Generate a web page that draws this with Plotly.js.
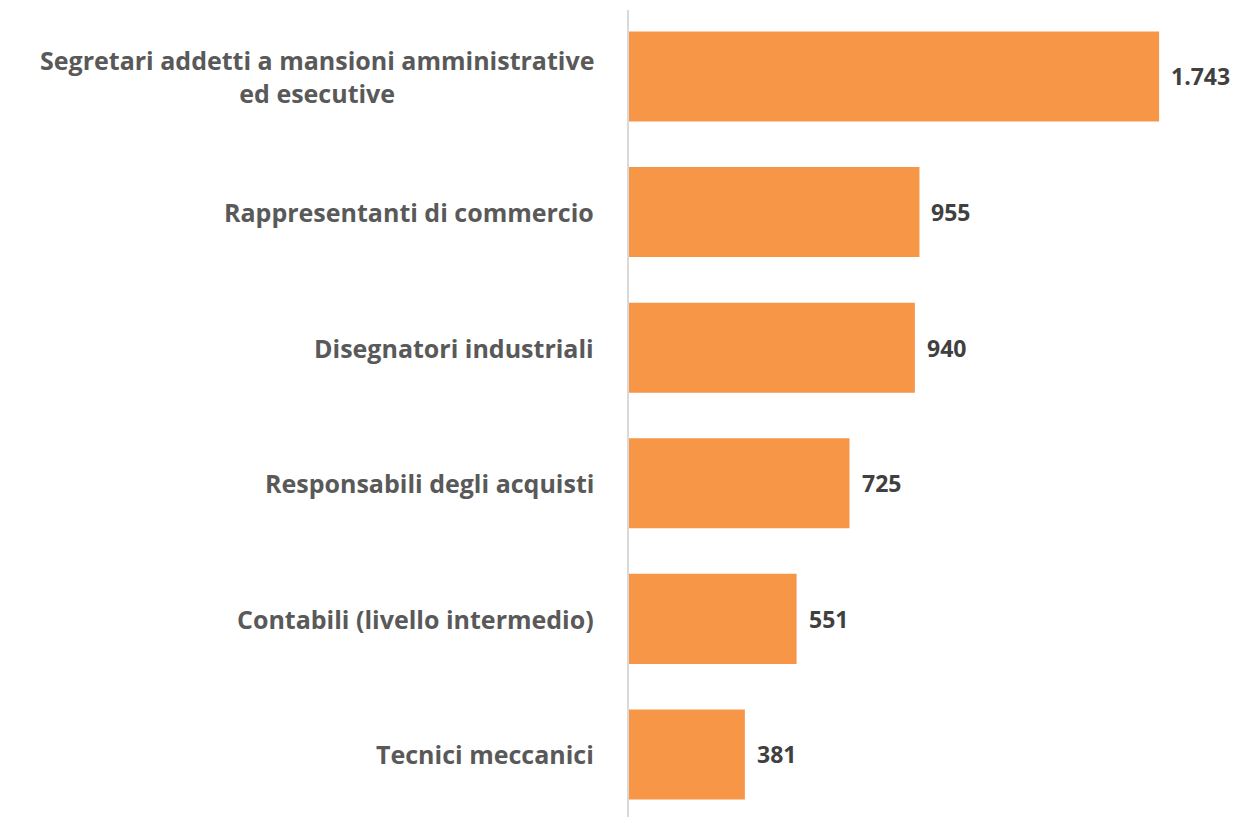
<!DOCTYPE html>
<html>
<head>
<meta charset="utf-8">
<script src="https://cdn.plot.ly/plotly-3.0.1.min.js"></script>
<style>
  html, body { margin: 0; padding: 0; background: #fff; }
  #myDiv { width: 1240px; height: 817px; }
</style>
</head>
<body>
<div id="myDiv"></div>
<script>
// bottom to top
var categories = ['Tecnici meccanici', 'Contabili (livello intermedio)', 'Responsabili degli acquisti',
  'Disegnatori industriali', 'Rappresentanti di commercio',
  'Segretari addetti a mansioni amministrative<br>ed esecutive'];
var values = [381, 551, 725, 940, 955, 1743];

function fmt(v) {
  return String(v).replace(/\B(?=(\d{3})+(?!\d))/g, '.');
}

var trace = {
  type: 'bar',
  orientation: 'h',
  y: categories,
  x: values,
  marker: {color: '#F79646'},
  hoverinfo: 'x+y'
};

var annotations = [];
categories.forEach(function (c, i) {
  annotations.push({
    xref: 'paper', yref: 'y', x: 0, y: c,
    xanchor: 'right', yanchor: 'middle', xshift: -33,
    align: 'center', showarrow: false, text: '<b>' + c + '</b>',
    font: {family: 'Open Sans, sans-serif', size: 25, color: '#595959'}
  });
  annotations.push({
    xref: 'x', yref: 'y', x: values[i], y: c,
    xanchor: 'left', yanchor: 'middle', xshift: 10,
    showarrow: false, text: '<b>' + fmt(values[i]) + '</b>',
    font: {family: 'Open Sans, sans-serif', size: 23, color: '#404040'}
  });
});

var layout = {
  width: 1240,
  height: 817,
  margin: {l: 629, r: 0, t: 10, b: 0},
  paper_bgcolor: '#fff',
  plot_bgcolor: '#fff',
  showlegend: false,
  bargap: 0.336,
  xaxis: {
    range: [0, 2009],
    showgrid: false, zeroline: false, showline: false,
    showticklabels: false, ticks: ''
  },
  yaxis: {
    type: 'category',
    range: [-0.461, 5.49],
    showgrid: false, zeroline: false,
    showline: true, linecolor: '#d9d9d9', linewidth: 2,
    showticklabels: false, ticks: ''
  },
  annotations: annotations
};

Plotly.newPlot('myDiv', [trace], layout, {displayModeBar: false});
</script>
</body>
</html>
